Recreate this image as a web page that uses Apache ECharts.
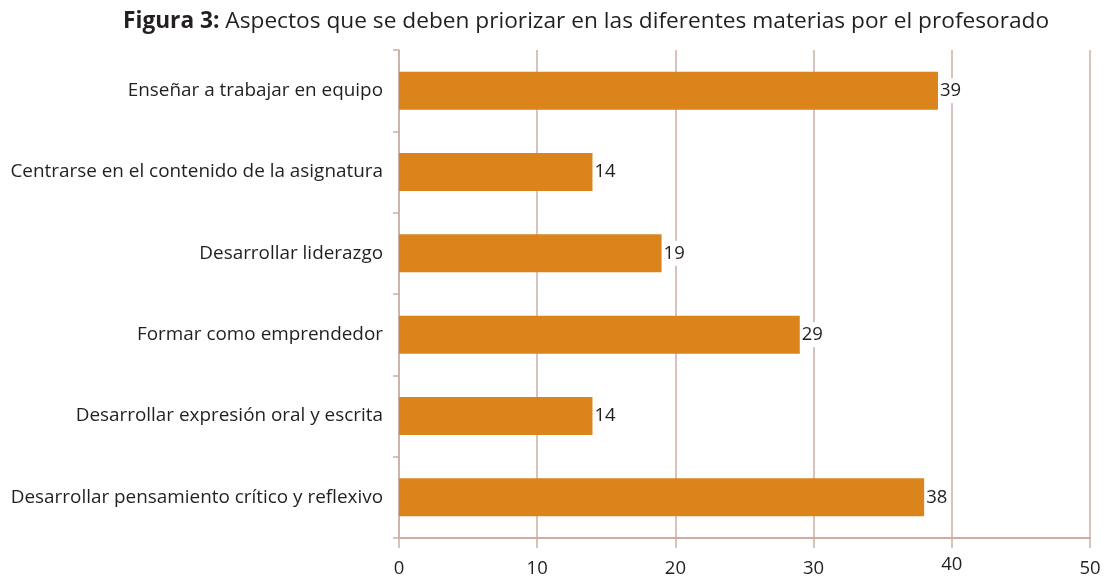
<!DOCTYPE html>
<html><head><meta charset="utf-8">
<script src="https://cdn.jsdelivr.net/npm/echarts@6/dist/echarts.min.js"></script>
<style>html,body{margin:0;padding:0;background:#fff}#c{width:1111px;height:577px}</style>
</head><body><div id="c"></div>
<script>
const categories = [
  "Enseñar a trabajar en equipo",
  "Centrarse en el contenido de la asignatura",
  "Desarrollar liderazgo",
  "Formar como emprendedor",
  "Desarrollar expresión oral y escrita",
  "Desarrollar pensamiento crítico y reflexivo"
];
const values = [39, 14, 19, 29, 14, 38];
const xTicks = [0, 10, 20, 30, 40, 50];
const titleBold = "Figura 3:";
const titleRest = " Aspectos que se deben priorizar en las diferentes materias por el profesorado";

const FONT = "'Open Sans', 'Noto Sans', sans-serif";
const chart = echarts.init(document.getElementById('c'));
chart.setOption({
  animation: false,
  title: {
    text: '{b|' + titleBold + '}{r|' + titleRest + '}',
    left: 118, top: 5,
    textStyle: {
      rich: {
        b: { fontFamily: FONT, fontWeight: 'bold', fontSize: 22.7, color: '#231F20' },
        r: { fontFamily: FONT, fontWeight: 'normal', fontSize: 22.7, color: '#231F20' }
      }
    }
  },
  grid: { left: 399, right: 21, top: 50, bottom: 39, containLabel: false, outerBoundsMode: 'none' },
  xAxis: {
    type: 'value', min: 0, max: 50, interval: 10,
    axisLine: { show: true, lineStyle: { color: '#CBAEA4', width: 2 } },
    axisTick: { show: true, length: 10, lineStyle: { color: '#CBAEA4', width: 1.5 } },
    axisLabel: { fontFamily: FONT, fontSize: 18.5, color: '#231F20', margin: 17,
      formatter: v => !xTicks.includes(v) ? '' : (v === 40 ? '{up|40}' : '{n|' + v + '}'),
      rich: {
        up: { fontFamily: FONT, fontSize: 18.5, color: '#231F20', padding: [0, 0, 0, 0] },
        n: { fontFamily: FONT, fontSize: 18.5, color: '#231F20', padding: [4, 0, 0, 0] }
      } },
    splitLine: { show: true, lineStyle: { color: '#CBAEA4', width: 1.5 } }
  },
  yAxis: {
    type: 'category', data: categories, inverse: true,
    axisLine: { show: true, lineStyle: { color: '#CBAEA4', width: 1.5 } },
    axisTick: { show: true, length: 6, lineStyle: { color: '#CBAEA4', width: 1.5 } },
    axisLabel: { fontFamily: FONT, fontSize: 18.9, color: '#231F20', margin: 16 }
  },
  series: [{
    type: 'bar', data: values, barWidth: 38,
    itemStyle: { color: '#DB841B' },
    label: { show: true, position: 'right', distance: 1, fontFamily: FONT, fontSize: 18.5,
      color: '#231F20', backgroundColor: '#fff', padding: [3, 2, 3, 1] }
  }]
});
</script></body></html>
